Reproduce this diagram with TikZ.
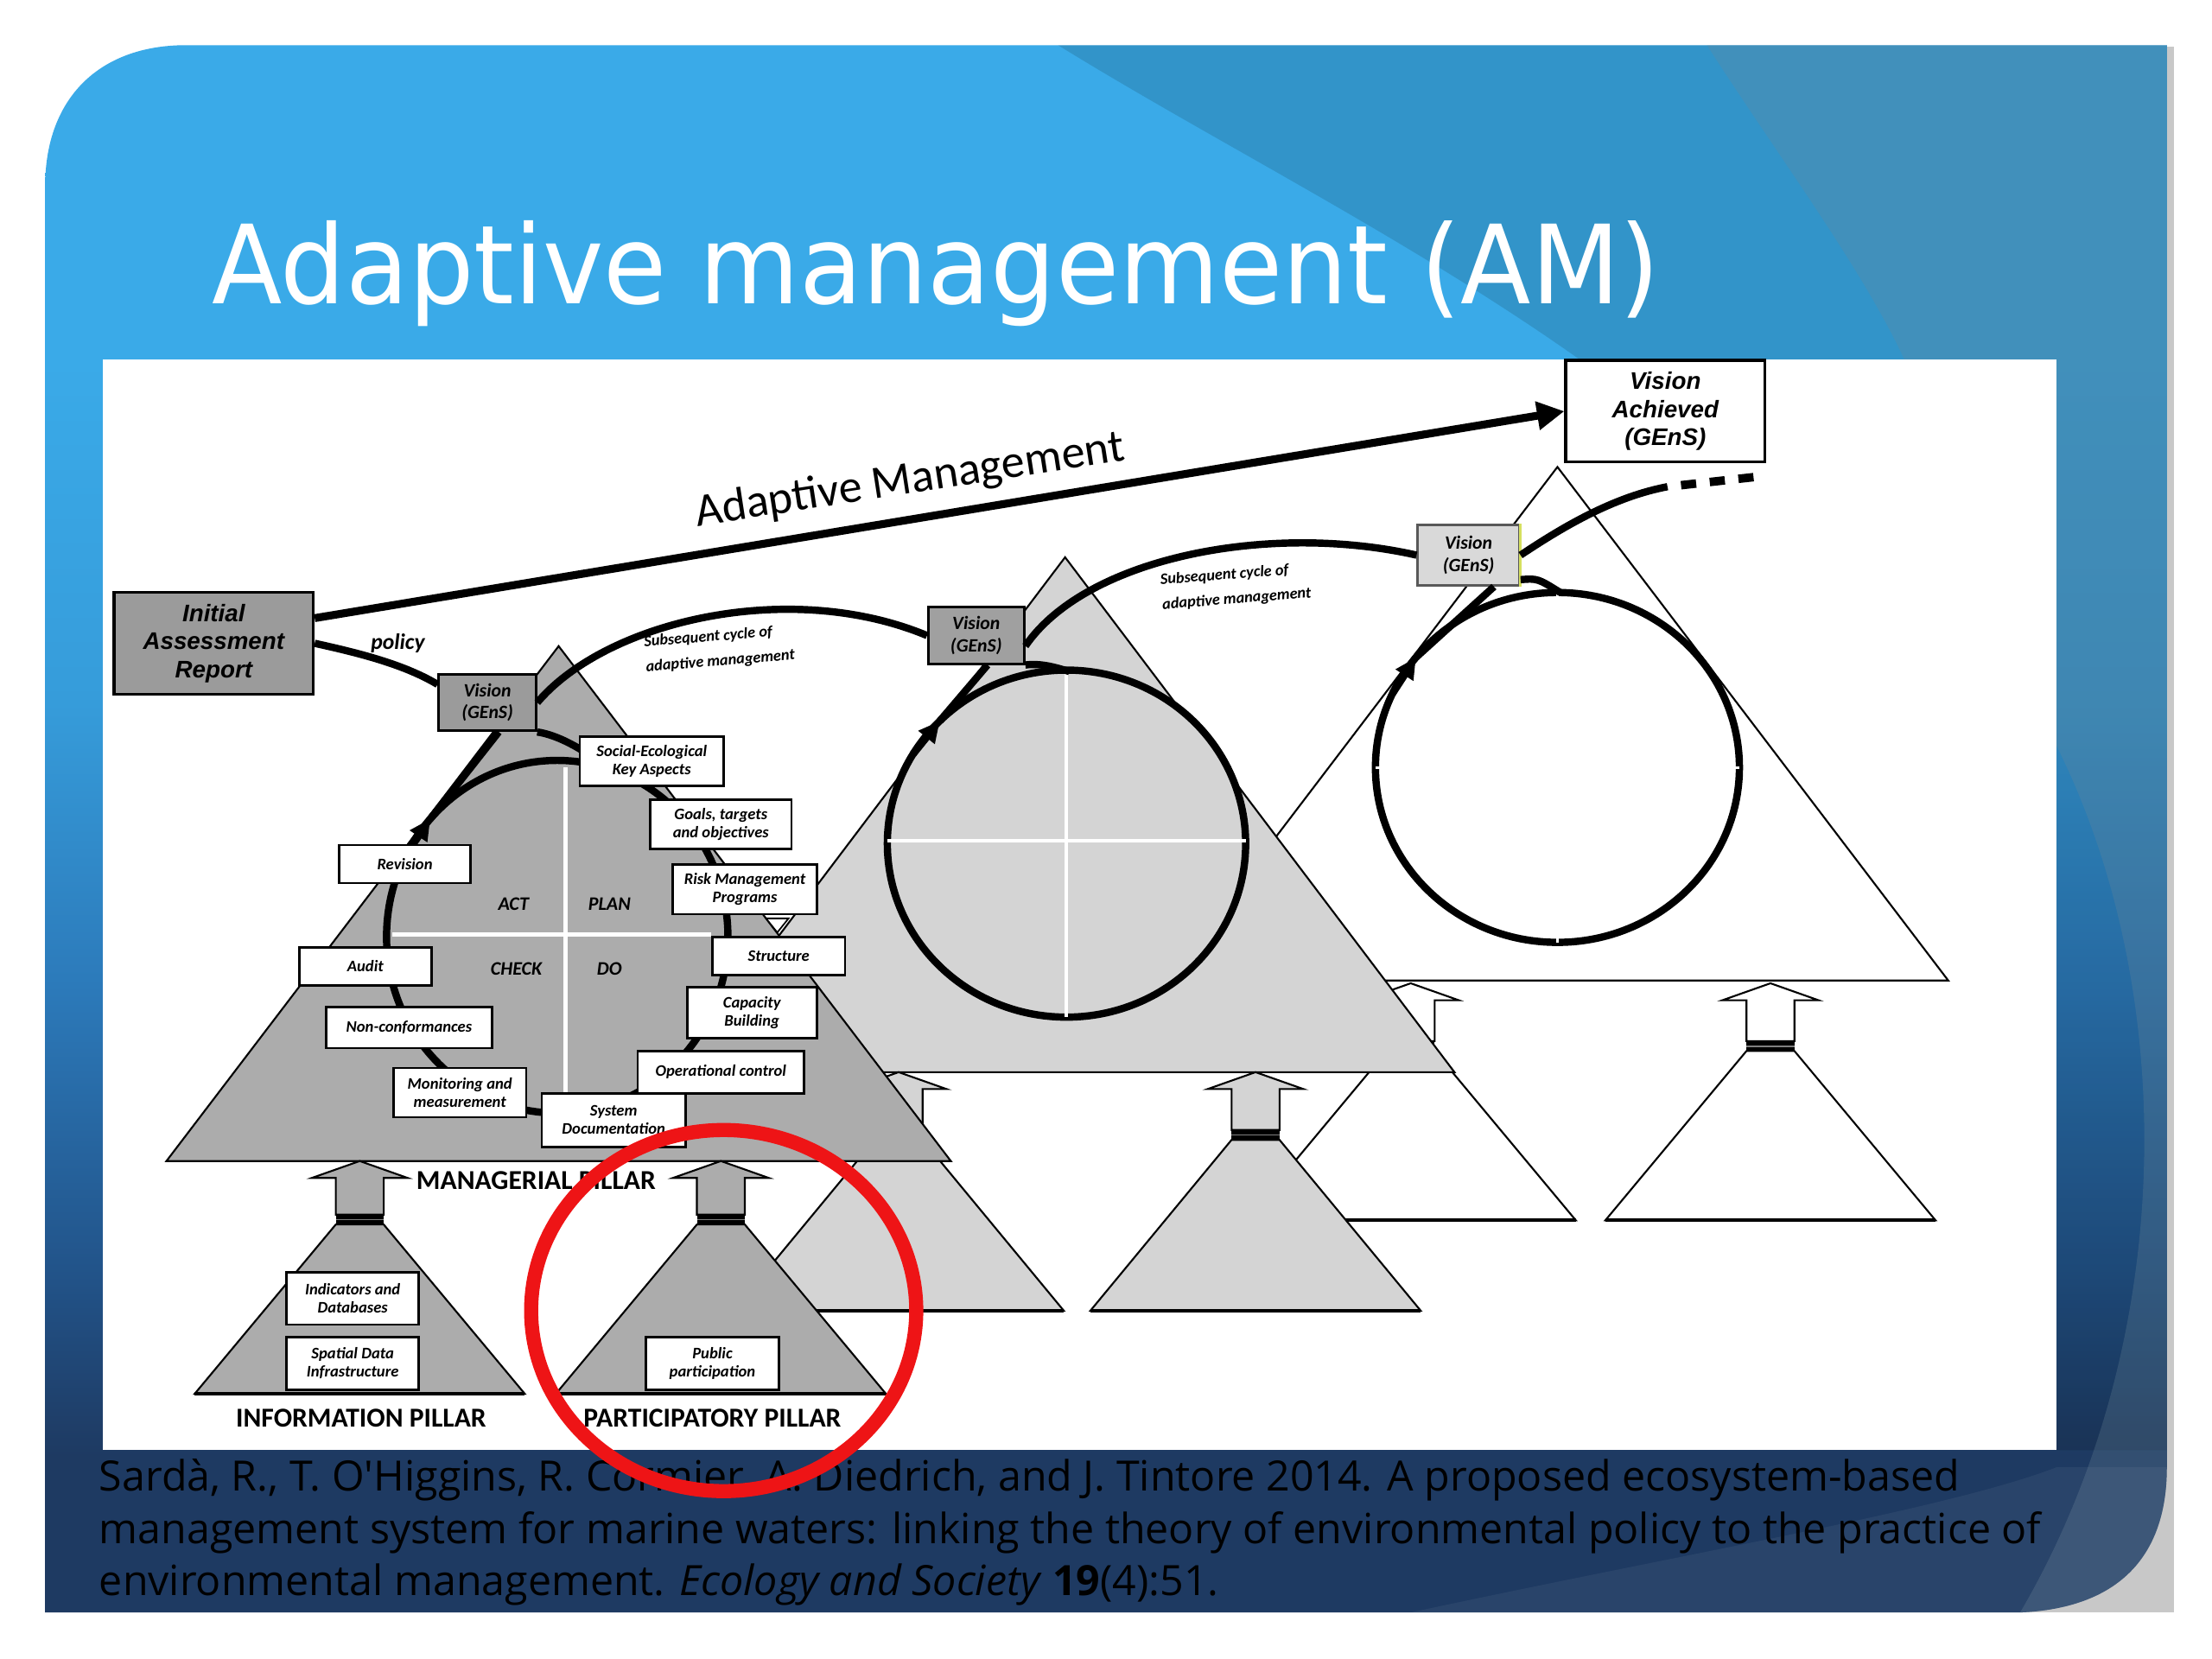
\documentclass[tikz,border=0pt]{standalone}
\usepackage{fontspec}
\setmainfont{Carlito}
\newfontfamily\titlefont{DejaVu Sans}
\newfontfamily\citefont{Open Sans}
\newfontfamily\reportfont{Liberation Sans}
\usetikzlibrary{arrows.meta,calc}

% slide colours
\definecolor{lightb}{RGB}{58,170,232}
\definecolor{skyb}{RGB}{54,156,218}
\definecolor{midb}{RGB}{44,122,186}
\definecolor{deepb}{RGB}{34,84,138}
\definecolor{navyb}{RGB}{30,58,98}
\definecolor{slate}{RGB}{106,135,152}
\definecolor{paleframe}{RGB}{200,200,200}
% diagram colours
\definecolor{darkgrey}{RGB}{155,155,155}
\definecolor{midgrey}{RGB}{172,172,172}
\definecolor{lightgrey}{RGB}{212,212,212}
\definecolor{palegrey}{RGB}{217,217,217}
\definecolor{visionyellow}{RGB}{214,224,96}
\definecolor{markred}{RGB}{238,20,22}

\pgfdeclareverticalshading{slidebg}{100bp}{color(0bp)=(navyb); color(30bp)=(navyb); color(36bp)=(deepb); color(45bp)=(midb); color(54bp)=(skyb); color(65bp)=(lightb); color(100bp)=(lightb)}

% one shown pixel
\newcommand{\pu}{0.46455pt}

% pillar: x, arrow tip y, band top y, base y, fill
\newcommand{\pillar}[5]{%
  \filldraw[fill=#5, triedge] (#1-17,#3) -- (#1-17,#2+12) -- (#1-34,#2+12) -- (#1,#2) -- (#1+34,#2+12) -- (#1+17,#2+12) -- (#1+17,#3) -- cycle;
  \filldraw[fill=#5, triedge] (#1-17,#3+7) -- (#1-117,#4) -- (#1+117,#4) -- (#1+17,#3+7) -- cycle;
  \fill[black] (#1-17,#3) rectangle (#1+17,#3+7);
  \draw[gray, line width=0.5pt] (#1-17,#3+3.5) -- (#1+17,#3+3.5);
  \draw[line width=1.1pt] (#1-117,#4) -- (#1+117,#4);
}

\tikzset{
  triedge/.style={draw=black, line width=0.6pt},
  ring/.style={line width=2.4pt, draw=black},
  flow/.style={line width=2.4pt, draw=black},
  ringtip/.style={ring, -{Triangle[length=7pt,width=6.5pt]}},
  stage/.style 2 args={draw=black, line width=0.8pt, fill=white, inner sep=0pt, align=center,
    minimum width=#1*\pu, minimum height=#2*\pu, font=\bfseries\itshape\fontsize{5.3}{6}\selectfont},
  vision/.style 2 args={draw=black, line width=0.8pt, fill=#1, inner sep=0pt, align=center,
    minimum width=#2*\pu, minimum height=40*\pu, font=\bfseries\itshape\fontsize{6.2}{7.2}\selectfont},
  report/.style={draw=black, line width=1pt, inner sep=0pt, align=center,
    minimum width=141*\pu, minimum height=72*\pu, font=\reportfont\bfseries\itshape\fontsize{7.9}{9.2}\selectfont},
  pillarlabel/.style={font=\bfseries\fontsize{9}{10}\selectfont, inner sep=0pt},
  quarter/.style={font=\bfseries\itshape\fontsize{6.3}{7}\selectfont, inner sep=0pt},
  cyclenote/.style={font=\bfseries\itshape\fontsize{5.2}{8.2}\selectfont, align=left, inner sep=0pt, rotate=4.5},
  citeline/.style={anchor=base west, inner sep=0pt, font=\citefont\fontsize{13.75}{16}\selectfont},
}

\begin{document}
\begin{tikzpicture}[x=0.016327cm, y=-0.016327cm]
\useasboundingbox (0,0) rectangle (1568,1176);
\fill[white] (0,0) rectangle (1568,1176);

% Slide background
\fill[paleframe] (1430,33) rectangle (1541,1143);
\shade[shading=slidebg] (32,132) .. controls (32,70) and (70,32) .. (132,32) -- (1536,32) -- (1536,1040) .. controls (1536,1105) and (1500,1140) .. (1432,1143) -- (32,1143) -- cycle;
\begin{scope}
  \clip (32,132) .. controls (32,70) and (70,32) .. (132,32) -- (1536,32) -- (1536,1040) .. controls (1536,1105) and (1500,1140) .. (1432,1143) -- (32,1143) -- cycle;
  % darker diagonal band
  \fill[black, opacity=0.13] (750,32) .. controls (860,100) and (1000,170) .. (1120,255) -- (1458,1028) -- (1540,1028) -- (1540,32) -- cycle;
  % grey band and wave
  \fill[slate, opacity=0.28] (1210,32) .. controls (1260,110) and (1320,190) .. (1350,255) .. controls (1400,380) and (1450,450) .. (1456,525) .. controls (1545,700) and (1545,950) .. (1432,1143) -- (1540,1143) -- (1540,32) -- cycle;
  \fill[white, opacity=0.05] (1000,1143) .. controls (1200,1100) and (1380,1070) .. (1458,1040) -- (1540,1040) -- (1540,1143) -- cycle;
\end{scope}

% Title
\node[anchor=base west, inner sep=0pt, text=white, font=\titlefont\fontsize{36}{40}\selectfont] (title) at (150,215) {\scalebox{0.94}[1]{Adaptive management (AM)}};

% White panel
\fill[white] (73,255) rectangle (1458,1028);

% Third cycle (back)
\filldraw[fill=white, triedge] (1104,331) -- (827,695) -- (1381,695) -- cycle;
\pillar{1000}{697}{738}{865}{white}
\pillar{1255}{697}{738}{865}{white}
\filldraw[ring, fill=white] (1104,544) ellipse [x radius=129, y radius=124];
\draw[white, line width=0.9pt] (975,544) -- (1233,544) (1104,420) -- (1104,668);

% Second cycle
\filldraw[fill=lightgrey, triedge] (755,395) -- (479,760) -- (1031,760) -- cycle;
\pillar{637}{760}{801}{929}{lightgrey}
\pillar{890}{760}{801}{929}{lightgrey}
\filldraw[ring, fill=lightgrey] (756,598) ellipse [x radius=127, y radius=123];
\draw[white, line width=1.2pt] (629,596) -- (883,596) (756,475) -- (756,721);

% First cycle (front)
\filldraw[fill=midgrey, triedge] (396,458) -- (118,823) -- (674,823) -- cycle;
\pillar{255}{823}{861}{988}{midgrey}
\pillar{511}{823}{861}{988}{midgrey}
\draw[white, line width=1.4pt] (278,662.5) -- (504,662.5) (400.6,544) -- (400.6,814);
\draw[ring] (395,664) ellipse [x radius=121, y radius=125];

% Boxes at the ends
\node[report, fill=darkgrey] (iar) at (151.5,456) {Initial\\Assessment\\Report};
\node[report, fill=white] (va) at (1180.5,291.5) {Vision\\Achieved\\(GEnS)};

% Vision boxes
\node[vision={darkgrey}{69}] (v1) at (345.5,498) {Vision\\(GEnS)};
\node[vision={darkgrey!95!white}{68}] (v2) at (692,450.5) {Vision\\(GEnS)};
\node[vision={palegrey}{72}, draw=gray!70!black, minimum height=43*\pu] (v3) at (1041,393.5) {Vision\\(GEnS)};
\draw[visionyellow, line width=0.8pt] (v3.north east) -- (v3.south east);

% Adaptive management arrow
\draw[line width=2.6pt, -{Triangle[length=9pt,width=9pt]}] (iar.14) -- (va.west);
\node[inner sep=0pt, rotate=8.8, font=\fontsize{15.4}{17}\selectfont] (amlab) at (645,341) {Adaptive Management};

% Policy and subsequent cycles
\draw[flow] (iar.east) .. controls (250,462) and (285,470) .. (v1.160);
\node[inner sep=0pt, font=\bfseries\itshape\fontsize{7.3}{8}\selectfont] (policy) at (282,456) {policy};
\draw[flow] (v1.east) .. controls (430,440) and (560,410) .. (v2.west);
\draw[flow] (v2.-12) .. controls (770,395) and (900,370) .. (v3.west);
\coordinate (fut) at (1182,345);
\coordinate (futend) at (1245,338);
\draw[flow] (v3.east) .. controls (1110,372) and (1145,352) .. (fut);
\draw[flow, line width=2.8pt, dash pattern=on 5pt off 4.5pt, dash phase=5pt] (fut) -- (futend);
\node[cyclenote] (sub1) at (510,460) {Subsequent cycle of\\adaptive management};
\node[cyclenote] (sub2) at (876,416) {Subsequent cycle of\\adaptive management};

% Rings entering the vision boxes
\coordinate (r1in) at ({395+121*cos(138)},{664-125*sin(138)});
\coordinate (r2in) at ({756+127*cos(135)},{598-123*sin(135)});
\coordinate (r3in) at ({1104+129*cos(141)},{544-124*sin(141)});
\draw[ring] (r1in) -- ($(v1.south)+(8,0)$);
\draw[ring] (v1.south east) .. controls (395,521) and (412,530) .. (430,544);
\draw[ringtip] ({395+121*cos(152)},{664-125*sin(152)}) -- (r1in);
\draw[ring] (r2in) -- ($(v2.south)+(8,0)$);
\draw[ring] (v2.south east) .. controls (738,470) and (748,473) .. (758,476);
\draw[ringtip] ({756+127*cos(149)},{598-123*sin(149)}) -- (r2in);
\draw[ring] (r3in) -- ($(v3.south)+(18,0)$);
\draw[ring] ($(v3.south east)+(0,-5)$) .. controls (1090,410) .. (1106,420);
\draw[ringtip] ({1104+129*cos(155)},{544-124*sin(155)}) -- (r3in);

% Small pointer under the risk box
\filldraw[fill=white, draw=black, line width=0.5pt] (543,651) -- (559,651) -- (551,661) -- cycle;

% Management system steps
\node[stage={102}{35}] (soc) at (462,539.5) {Social-Ecological\\Key Aspects};
\node[stage={100}{35}] (goal) at (511,584.5) {Goals, targets\\and objectives};
\node[stage={102}{35}] (risk) at (528,630.5) {Risk Management\\Programs};
\node[stage={94}{27}] (struc) at (552,677.5) {Structure};
\node[stage={92}{36}] (capa) at (533,718) {Capacity\\Building};
\node[stage={118}{30}] (oper) at (511,760) {Operational control};
\node[stage={102}{38}] (sysd) at (435,794) {System\\Documentation};
\node[stage={94}{35}] (moni) at (326,774.5) {Monitoring and\\measurement};
\node[stage={118}{29}] (nonc) at (290,728.5) {Non-conformances};
\node[stage={94}{27}] (audit) at (259,685) {Audit};
\node[stage={93}{27}] (revi) at (287,612.5) {Revision};

\node[quarter] (act) at (364,641) {ACT};
\node[quarter] (plan) at (432,641) {PLAN};
\node[quarter] (check) at (366,687) {CHECK};
\node[quarter] (qdo) at (432,687) {DO};

% Pillars
\node[stage={94}{37}] (indic) at (250,920.5) {Indicators and\\Databases};
\node[stage={94}{37}] (spat) at (250,966.5) {Spatial Data\\Infrastructure};
\node[stage={94}{37}] (publ) at (505,966.5) {Public\\participation};
\node[pillarlabel] (manlab) at (380,837) {MANAGERIAL PILLAR};
\node[pillarlabel] (infolab) at (256,1005) {INFORMATION PILLAR};
\node[pillarlabel] (partlab) at (505,1005) {PARTICIPATORY PILLAR};

% Reference
\node[citeline] (cite1) at (70,1057) {Sardà, R., T. O'Higgins, R. Cormier, A. Diedrich, and J. Tintore 2014. A proposed ecosystem-based};
\node[citeline] (cite2) at (70,1094) {management system for marine waters: linking the theory of environmental policy to the practice of};
\node[citeline] (cite3) at (70,1131) {environmental management. \textit{Ecology and Society} \textbf{19}(4):51.};

% Highlight
\draw[markred, line width=4.65pt] (513,929) ellipse [x radius=136.5, y radius=128];
\end{tikzpicture}
\end{document}
